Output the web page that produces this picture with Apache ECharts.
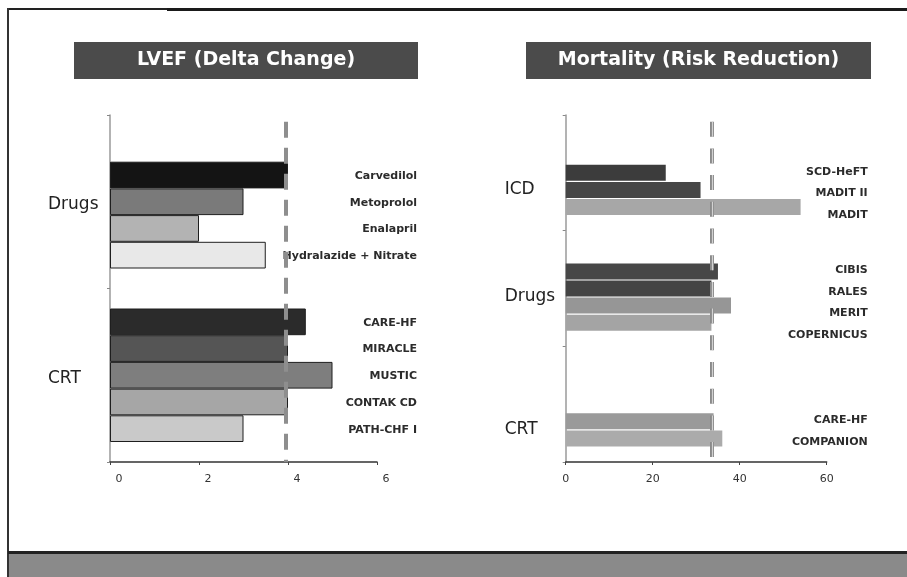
<!DOCTYPE html>
<html>
<head>
<meta charset="utf-8">
<script src="https://cdn.jsdelivr.net/npm/echarts@6/dist/echarts.min.js"></script>
<style>
  html, body { margin: 0; padding: 0; background: #fff; }
  #chart { width: 907px; height: 577px; }
</style>
</head>
<body>
<div id="chart"></div>
<script>
// ---- LVEF (delta change) ----
const lvefGroups = ['Drugs', 'CRT'];
const lvefDrugNames = ['Carvedilol', 'Metoprolol', 'Enalapril', 'Hydralazide + Nitrate'];
const lvefDrugValues = [4.0, 3.0, 2.0, 3.5];
const lvefCrtNames = ['CARE-HF', 'MIRACLE', 'MUSTIC', 'CONTAK CD', 'PATH-CHF I'];
const lvefCrtValues = [4.4, 4.0, 5.0, 4.0, 3.0];
const lvefTicks = [0, 2, 4, 6];
const lvefReference = 3.95;

// ---- Mortality (risk reduction, %) ----
const mortGroups = ['ICD', 'Drugs', 'CRT'];
const mortIcdNames = ['SCD-HeFT', 'MADIT II', 'MADIT'];
const mortIcdValues = [23, 31, 54];
const mortDrugNames = ['CIBIS', 'RALES', 'MERIT', 'COPERNICUS'];
const mortDrugValues = [35, 33.5, 38, 33.5];
const mortCrtNames = ['CARE-HF', 'COMPANION'];
const mortCrtValues = [34, 36];
const mortTicks = [0, 20, 40, 60];
const mortReference = 33.6;

// ---- fills ----
const lvefDrugColors = ['#141414', '#7a7a7a', '#b3b3b3', '#e8e8e8'];
const lvefCrtColors = ['#2b2b2b', '#555555', '#7e7e7e', '#a6a6a6', '#c9c9c9'];
const mortIcdColors = ['#3c3c3c', '#464646', '#a7a7a7'];
const mortDrugColors = ['#474747', '#444444', '#969696', '#a4a4a4'];
const mortCrtColors = ['#9a9a9a', '#ababab'];

// every group reserves the same number of bar slots; bars fill the lower ones
const SLOTS = 5;
const FONT = 'DejaVu Sans';

function panel(cfg) {
  const series = [];
  for (let s = 0; s < SLOTS; s++) {
    const data = cfg.groups.map((g, gi) => {
      const vals = cfg.values[gi];
      const k = s - (SLOTS - vals.length);
      if (k < 0) return '-';
      return {
        value: vals[k],
        name: cfg.names[gi][k],
        itemStyle: { color: cfg.colors[gi][k] },
        label: { offset: [0, cfg.labelBase + k * cfg.labelStep] }
      };
    });
    series.push({
      type: 'bar',
      xAxisIndex: cfg.index,
      yAxisIndex: cfg.index,
      barWidth: cfg.barWidth,
      barGap: cfg.barGap,
      silent: true,
      itemStyle: cfg.border
        ? { borderColor: '#1e1e1e', borderWidth: 1 }
        : { borderWidth: 0 },
      label: {
        show: true,
        position: [cfg.labelRight, '50%'],
        align: 'right',
        verticalAlign: 'middle',
        color: '#2b2b2b',
        fontFamily: FONT,
        fontWeight: 'bold',
        fontSize: 11,
        textBorderWidth: 0,
        formatter: p => p.data.name
      },
      data
    });
  }
  series[SLOTS - 1].markLine = {
    symbol: 'none',
    silent: true,
    animation: false,
    label: { show: false },
    data: cfg.refLines.map(l => ({ xAxis: cfg.reference, lineStyle: l }))
  };

  const slot = cfg.slot;
  const rich = {};
  cfg.groups.forEach((g, gi) => {
    const empty = SLOTS - cfg.values[gi].length;
    rich['g' + gi] = {
      fontFamily: FONT, fontSize: 17, color: '#222',
      padding: [cfg.centerOnBars ? empty * slot : 6, 0, 0, 0]
    };
  });

  const yAxis = {
    type: 'category',
    gridIndex: cfg.index,
    data: cfg.groups,
    inverse: true,
    axisLine: { show: true, lineStyle: { color: '#9a9a9a', width: 1.5 } },
    axisTick: { show: true, length: 3, lineStyle: { color: '#888' } },
    axisLabel: {
      interval: 0,
      align: 'left',
      margin: cfg.groupMargin,
      formatter: (v, i) => '{g' + i + '|' + v + '}',
      rich
    }
  };
  const t = cfg.ticks;
  const xAxis = {
    type: 'value',
    gridIndex: cfg.index,
    min: t[0],
    max: t[t.length - 1],
    interval: t[1] - t[0],
    axisLine: { show: true, lineStyle: { color: '#333', width: 1.5 } },
    axisTick: { show: true, length: 3, lineStyle: { color: '#444' } },
    splitLine: { show: false },
    axisLabel: {
      color: '#333', fontFamily: FONT, fontSize: 11, margin: 12,
      padding: cfg.tickLabelPadding
    }
  };
  return { series, xAxis, yAxis };
}

const left = panel({
  index: 0,
  groups: lvefGroups,
  names: [lvefDrugNames, lvefCrtNames],
  values: [lvefDrugValues, lvefCrtValues],
  colors: [lvefDrugColors, lvefCrtColors],
  ticks: lvefTicks,
  reference: lvefReference,
  refLines: [{ type: [16, 10], dashOffset: 19.3, width: 4, color: '#8e8e8e', opacity: 1 }],
  barWidth: 26.7, barGap: 0, slot: 26.7, border: true,
  labelRight: 307, labelBase: 1, labelStep: 0,
  centerOnBars: false, groupMargin: 62,
  tickLabelPadding: [0, 0, 0, 18]
});

const right = panel({
  index: 1,
  groups: mortGroups,
  names: [mortIcdNames, mortDrugNames, mortCrtNames],
  values: [mortIcdValues, mortDrugValues, mortCrtValues],
  colors: [mortIcdColors, mortDrugColors, mortCrtColors],
  ticks: mortTicks,
  reference: mortReference,
  refLines: [
    { type: [15, 11.7], dashOffset: 20, width: 4, color: '#8a8a8a', opacity: 1 },
    { type: [15, 11.7], dashOffset: 20, width: 1.2, color: '#d2d2d2', opacity: 1 }
  ],
  barWidth: 16, barGap: '7%', slot: 17.1, border: false,
  labelRight: 302, labelBase: -1, labelStep: 4.5,
  centerOnBars: true, groupMargin: 61,
  tickLabelPadding: 0
});

const titleText = (txt, x, y, w, h) => ({
  type: 'group',
  children: [
    { type: 'rect', shape: { x, y, width: w, height: h }, style: { fill: '#4b4b4b' } },
    {
      type: 'text', x: x + w / 2, y: y + h / 2,
      style: {
        text: txt, fill: '#fff', font: 'bold 19px "DejaVu Sans"',
        textAlign: 'center', textVerticalAlign: 'middle'
      }
    }
  ]
});

const chart = echarts.init(document.getElementById('chart'), null, { renderer: 'canvas' });
chart.setOption({
  animation: false,
  backgroundColor: '#fff',
  grid: [
    { left: 110, top: 115, width: 267, height: 347, outerBoundsMode: 'none' },
    { left: 565.7, top: 115, width: 261, height: 347, outerBoundsMode: 'none' }
  ],
  xAxis: [left.xAxis, right.xAxis],
  yAxis: [left.yAxis, right.yAxis],
  series: left.series.concat(right.series),
  graphic: [
    // page frame
    { type: 'rect', shape: { x: 8, y: 8, width: 160, height: 2 }, style: { fill: '#222' } },
    { type: 'rect', shape: { x: 167, y: 8, width: 740, height: 3 }, style: { fill: '#1a1a1a' } },
    { type: 'rect', shape: { x: 7, y: 8, width: 2, height: 569 }, style: { fill: '#333' } },
    { type: 'rect', shape: { x: 8, y: 551, width: 899, height: 3 }, style: { fill: '#222' } },
    { type: 'rect', shape: { x: 9, y: 554, width: 898, height: 23 }, style: { fill: '#8a8a8a' } },
    // panel headers
    titleText('LVEF (Delta Change)', 74, 42, 344, 37),
    titleText('Mortality (Risk Reduction)', 526, 42, 345, 37)
  ]
});
</script>
</body>
</html>
